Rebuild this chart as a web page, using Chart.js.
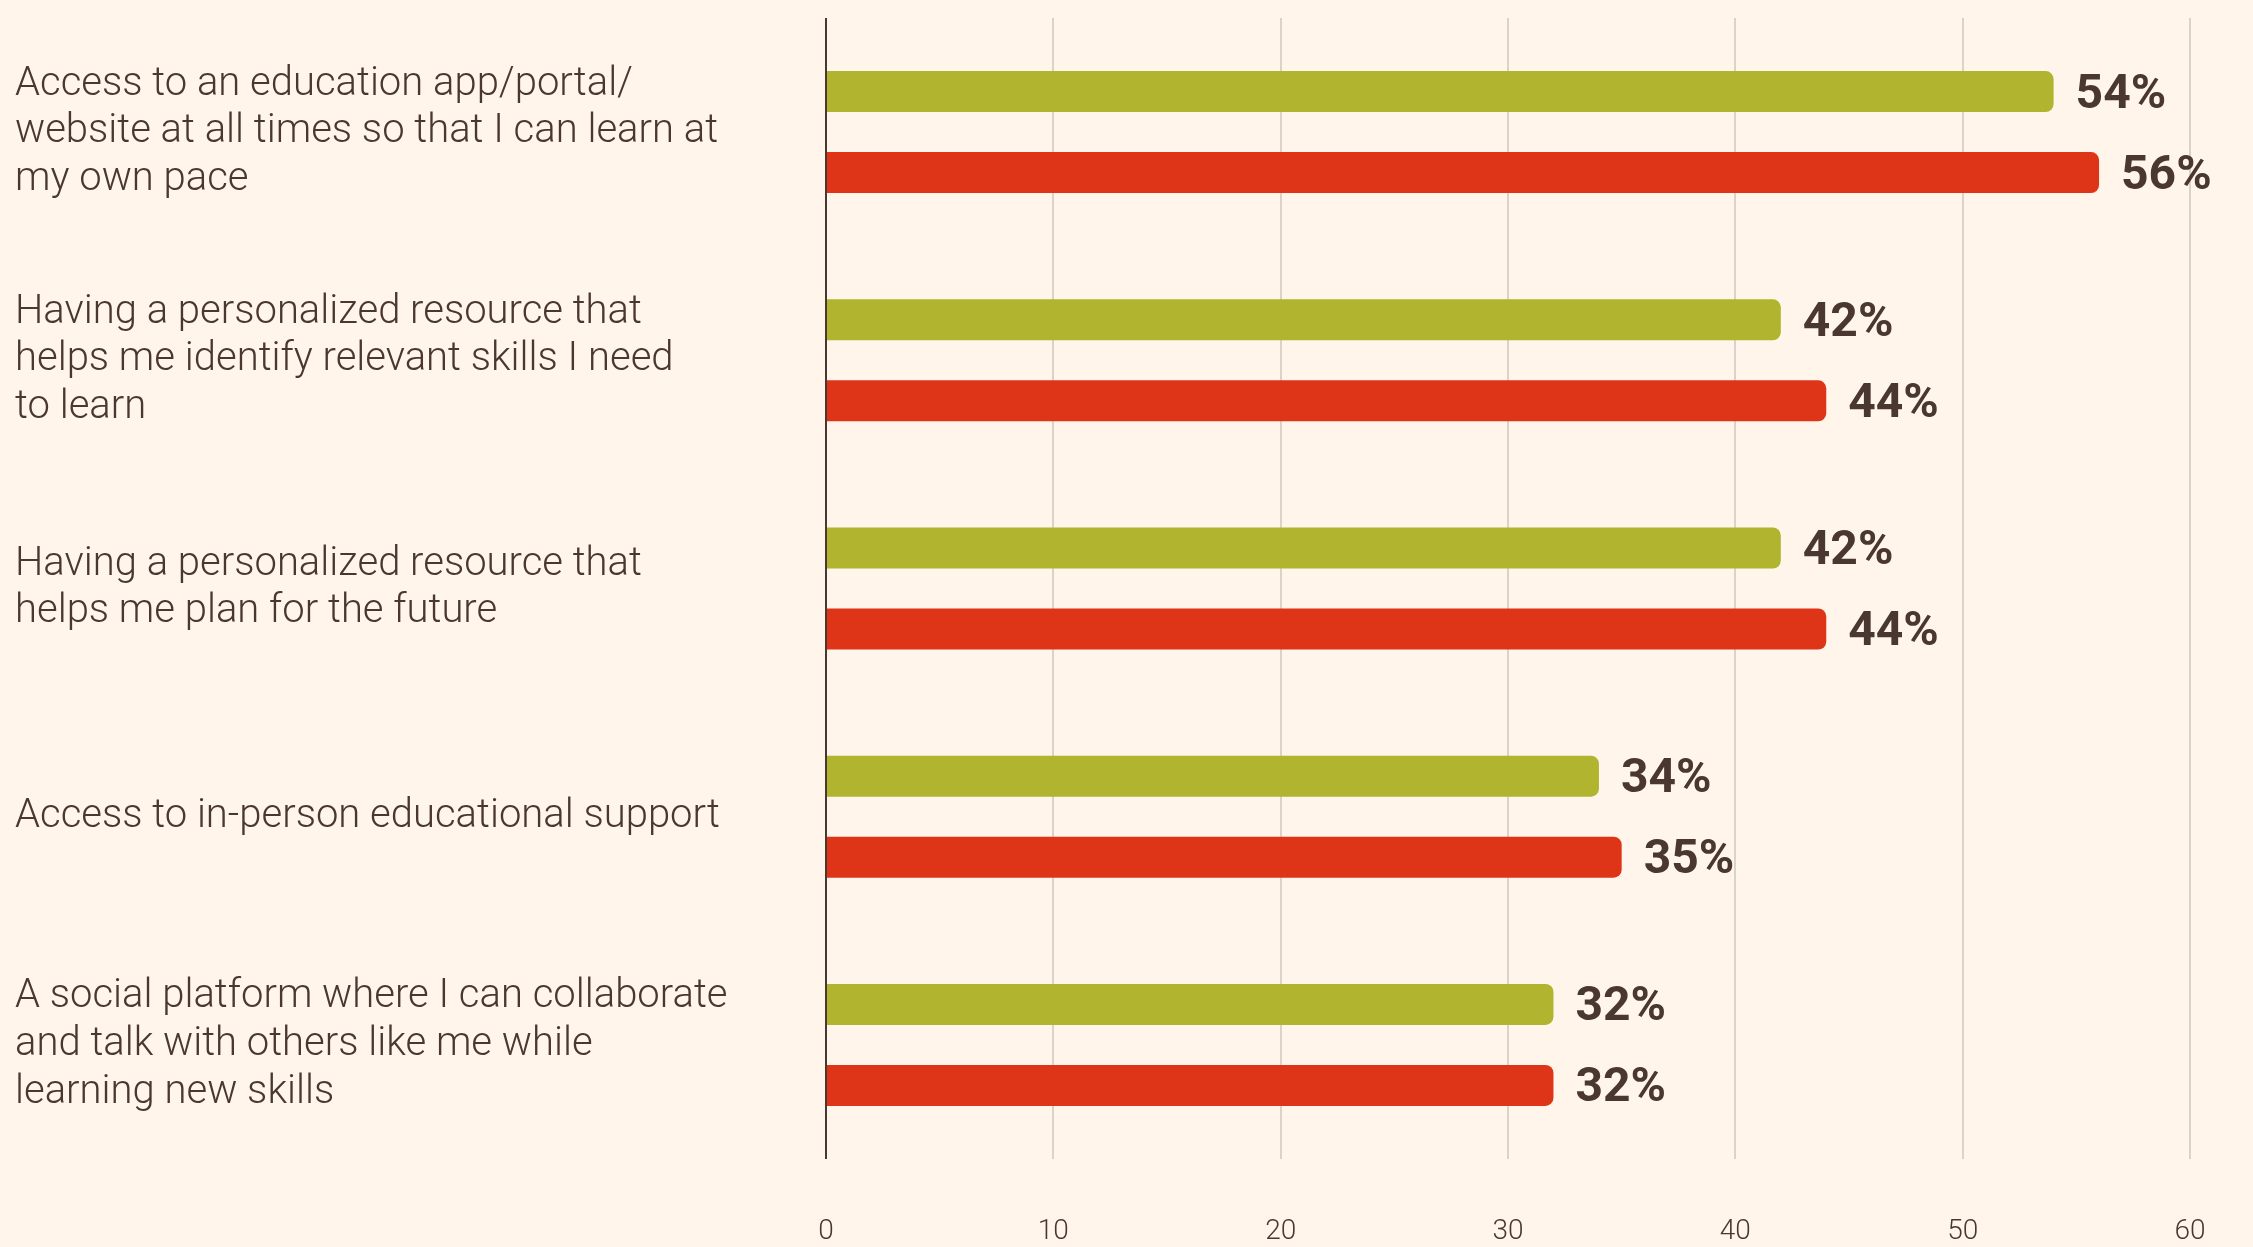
<!DOCTYPE html>
<html>
<head>
<meta charset="utf-8">
<style>
  html, body { margin: 0; padding: 0; background: #fff5ea; }
  #wrap { width: 2253px; height: 1247px; position: relative; }
</style>
</head>
<body>
<div id="wrap"><canvas id="needsChart"></canvas></div>

<script src="https://cdn.jsdelivr.net/npm/chart.js"></script>
<script>
// Kategoriler (satırlara bölünmüş)
const categories = [
  ['Access to an education app/portal/', 'website at all times so that I can learn at', 'my own pace'],
  ['Having a personalized resource that', 'helps me identify relevant skills I need', 'to learn'],
  ['Having a personalized resource that', 'helps me plan for the future'],
  ['Access to in-person educational support'],
  ['A social platform where I can collaborate', 'and talk with others like me while', 'learning new skills']
];

// Seriler
const greenValues = [54, 42, 42, 34, 32];
const redValues = [56, 44, 44, 35, 32];

// Eksen
const axisMin = 0;
const axisMax = 60;
const axisStep = 10;

const TEXT = '#4a3731';

// Çubuk sonuna yüzde etiketi yaz
const valueLabels = {
  id: 'valueLabels',
  afterDatasetsDraw(chart) {
    const ctx = chart.ctx;
    ctx.save();
    ctx.font = 'bold 48px Roboto';
    ctx.fillStyle = TEXT;
    ctx.textAlign = 'left';
    ctx.textBaseline = 'middle';
    chart.data.datasets.forEach((ds, i) => {
      chart.getDatasetMeta(i).data.forEach((bar, j) => {
        ctx.fillText(ds.data[j] + '%', bar.x + 22, bar.y + 4);
      });
    });
    ctx.restore();
  }
};

const ctx = document.getElementById('needsChart').getContext('2d');
new Chart(ctx, {
  type: 'bar',
  data: {
    labels: categories,
    datasets: [{
      label: 'Series 1',
      data: greenValues,
      backgroundColor: '#b0b42e',
      borderRadius: 8,
      categoryPercentage: 0.71,
      barPercentage: 0.506
    }, {
      label: 'Series 2',
      data: redValues,
      backgroundColor: '#de3519',
      borderRadius: 8,
      categoryPercentage: 0.71,
      barPercentage: 0.506
    }]
  },
  options: {
    indexAxis: 'y',
    responsive: true,
    maintainAspectRatio: false,
    animation: false,
    layout: { padding: { left: 15, top: 18, right: 63, bottom: 0 } },
    plugins: {
      legend: { display: false },
      tooltip: { enabled: false }
    },
    scales: {
      x: {
        min: axisMin,
        max: axisMax,
        border: { display: false },
        grid: {
          drawTicks: false,
          lineWidth: 2,
          color: c => c.tick && c.tick.value === 0 ? TEXT : '#dbd3c9'
        },
        ticks: {
          stepSize: axisStep,
          padding: 56,
          color: TEXT,
          font: { family: 'Roboto', size: 28, weight: 300 }
        },
        afterFit(scale) {
          scale.height = 88;
          scale.paddingLeft = 0;
          scale.paddingRight = 0;
        }
      },
      y: {
        border: { display: false },
        grid: { display: false, drawTicks: false },
        ticks: {
          crossAlign: 'far',
          color: TEXT,
          font: { family: 'Roboto', size: 40, weight: 300, lineHeight: 1.19 }
        },
        afterFit(scale) {
          scale.width = 811;
          scale.paddingTop = 0;
          scale.paddingBottom = 0;
        }
      }
    }
  },
  plugins: [valueLabels]
});
</script>
</body>
</html>
